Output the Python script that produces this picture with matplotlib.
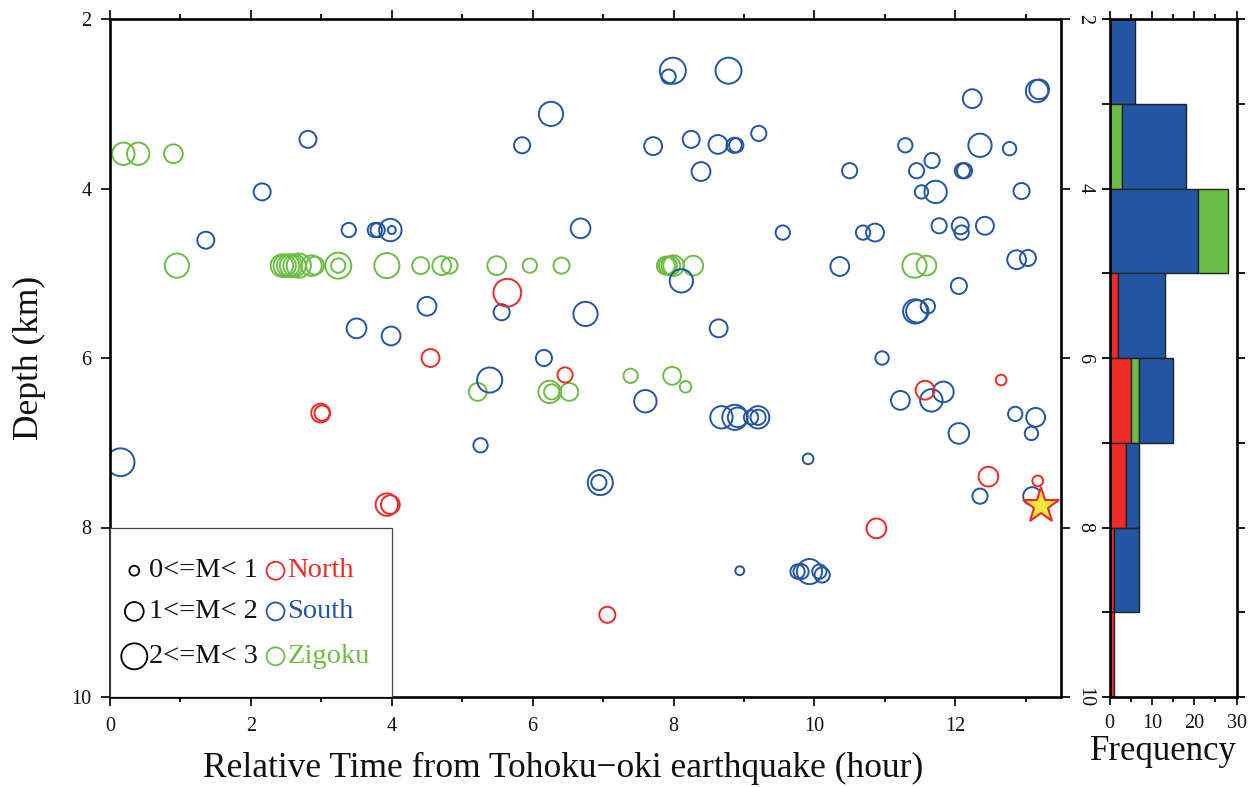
import matplotlib
matplotlib.use("Agg")
import matplotlib.pyplot as plt
from matplotlib.patches import Rectangle
from matplotlib.ticker import MultipleLocator, FixedLocator

plt.rcParams['font.family'] = ['Liberation Serif', 'DejaVu Serif']

# ---------------- event catalogue: (time [h], depth [km], magnitude) ----------------
north_time = [5.64, 4.55, 6.46, 2.99, 3.01, 3.93, 3.98, 7.06, 10.88, 11.57, 12.65, 12.47, 13.17]
north_depth = [5.23, 6.00, 6.20, 6.65, 6.65, 7.73, 7.73, 9.03, 8.01, 6.38, 6.26, 7.40, 7.45]
north_mag = [2.7, 1.6, 1.3, 1.7, 1.3, 2.1, 1.7, 1.4, 1.8, 1.7, 0.8, 1.8, 0.8]

zigoku_time = [0.19, 0.40, 0.90, 0.95, 2.44, 2.48, 2.53, 2.57, 2.62, 2.68, 2.86, 2.91,
               3.24, 3.24, 3.93, 4.41, 4.71, 4.82, 5.49, 5.96, 6.41, 7.89, 7.92, 7.96,
               8.00, 8.28, 11.42, 11.59, 5.22, 6.24, 6.27, 6.52, 7.39, 7.98, 8.17]
zigoku_depth = [3.59, 3.59, 3.59, 4.91, 4.91, 4.91, 4.91, 4.91, 4.91, 4.91, 4.91, 4.91,
                4.91, 4.91, 4.91, 4.91, 4.91, 4.91, 4.91, 4.91, 4.91, 4.91, 4.91, 4.91,
                4.91, 4.91, 4.91, 4.91, 6.40, 6.40, 6.40, 6.40, 6.21, 6.21, 6.34]
zigoku_mag = [2.1, 2.1, 1.7, 2.3, 2.1, 2.1, 2.1, 2.1, 2.1, 2.3, 1.9, 1.6,
              2.5, 1.2, 2.4, 1.5, 1.7, 1.4, 1.7, 1.2, 1.4, 1.6, 1.6, 1.7,
              1.9, 1.8, 2.3, 1.8, 1.6, 2.1, 1.3, 1.6, 1.2, 1.6, 0.9]

south_time = [2.81, 2.16, 1.36, 0.15, 3.39, 3.76, 3.80, 3.98, 4.00, 3.50, 3.99, 4.50,
              7.99, 7.93, 8.78, 6.26, 5.85, 7.71, 8.25, 8.63, 8.86, 8.89, 9.21, 8.39,
              6.68, 9.55, 8.11, 5.56, 6.75, 8.64, 6.16, 5.39, 7.60, 8.68, 8.87, 8.91,
              9.10, 9.20, 9.20, 5.26, 9.91, 6.96, 6.94, 8.94, 9.76, 9.81, 9.93, 10.07,
              10.11, 13.16, 13.19, 12.24, 12.35, 11.29, 12.77, 11.67, 10.50, 11.45, 12.10,
              12.13, 11.52, 11.72, 12.94, 11.77, 12.07, 12.09, 12.42, 10.69, 10.86, 10.36,
              12.87, 13.03, 12.05, 11.43, 11.46, 11.61, 10.96, 11.83, 11.22, 11.66, 12.85,
              13.14, 13.08, 12.05, 12.35, 13.09]
south_depth = [3.42, 4.04, 4.61, 7.23, 4.49, 4.49, 4.49, 4.49, 4.49, 5.65, 5.74, 5.39,
               2.61, 2.68, 2.61, 3.12, 3.49, 3.50, 3.42, 3.48, 3.49, 3.49, 3.35, 3.80,
               4.47, 4.52, 5.09, 5.46, 5.48, 5.65, 6.00, 6.26, 6.51, 6.70, 6.70, 6.70,
               6.70, 6.70, 6.70, 7.03, 7.19, 7.47, 7.47, 8.51, 8.52, 8.52, 8.52, 8.52,
               8.56, 2.85, 2.83, 2.94, 3.49, 3.49, 3.53, 3.67, 3.79, 3.79, 3.79,
               3.79, 4.04, 4.04, 4.03, 4.44, 4.44, 4.52, 4.44, 4.52, 4.52, 4.92,
               4.84, 4.82, 5.15, 5.45, 5.45, 5.39, 6.00, 6.40, 6.50, 6.50, 6.66,
               6.70, 6.89, 6.89, 7.63, 7.63]
south_mag = [1.5, 1.5, 1.5, 2.7, 1.2, 1.2, 1.2, 2.1, 0.5, 1.8, 1.7, 1.7,
             2.5, 1.2, 2.5, 2.3, 1.4, 1.6, 1.5, 1.7, 1.3, 1.2, 1.3, 1.7,
             1.8, 1.2, 2.2, 1.4, 2.3, 1.6, 1.4, 2.4, 2.1, 2.1, 2.4, 1.8,
             1.2, 2.1, 1.3, 1.2, 0.8, 2.4, 1.3, 0.6, 1.2, 1.3, 2.4, 1.2,
             1.3, 2.1, 1.8, 1.7, 2.2, 1.2, 1.1, 1.3, 1.3, 1.3, 1.3,
             1.3, 1.1, 2.1, 1.4, 1.3, 1.5, 1.2, 1.6, 1.2, 1.6, 1.7,
             1.7, 1.4, 1.4, 2.3, 2.1, 1.2, 1.1, 1.9, 1.7, 2.1, 1.2,
             1.7, 1.1, 1.9, 1.3, 1.6]

# Reference event (star)
star_time = [13.22]
star_depth = [7.75]

# ---------------- depth histogram (1 km bins) ----------------
depth_edges = [2, 3, 4, 5, 6, 7, 8, 9, 10]
north_hist = [0, 0, 0, 2, 5, 4, 1, 1]
zigoku_hist = [0, 3, 7, 0, 2, 0, 0, 0]
south_hist = [6, 15, 21, 11, 8, 3, 6, 0]

# Legend entries
mag_classes = ["0<=M< 1", "1<=M< 2", "2<=M< 3"]
mag_class_rep = [0.7, 1.7, 2.5]
region_names = ["North", "South", "Zigoku"]

RED = "#EE2A26"
BLUE = "#2255A4"
GREEN = "#6CBD45"
region_colors = [RED, BLUE, GREEN]

W, H = 1256, 787
fig = plt.figure(figsize=(W / 100, H / 100), dpi=100)


def diam_pts(m):
    # circle diameter (points) grows with magnitude
    return (3.5 + 9.0 * m) * 0.72


def sizes(mags):
    return [diam_pts(m) ** 2 for m in mags]


ax = fig.add_axes([110 / W, 1 - 697 / H, (1061 - 110) / W, (697 - 19) / H])
axh = fig.add_axes([1109.5 / W, 1 - 697 / H, (1236.5 - 1109.5) / W, (697 - 19) / H])

lw_c = 1.4
ax.scatter(zigoku_time, zigoku_depth, s=sizes(zigoku_mag), facecolors='none',
           edgecolors=GREEN, linewidths=lw_c, zorder=2)
ax.scatter(south_time, south_depth, s=sizes(south_mag), facecolors='none',
           edgecolors=BLUE, linewidths=lw_c, zorder=2)
ax.scatter(north_time, north_depth, s=sizes(north_mag), facecolors='none',
           edgecolors=RED, linewidths=lw_c, zorder=2)
ax.plot(star_time, star_depth, marker='*', ms=27, mfc='#F1E83C', mec=RED, mew=1.5,
        ls='none', zorder=4)

ax.set_xlim(0, 13.5)
ax.set_ylim(10, 2)

# ---- legend box in the lower-left corner ----
ax.add_patch(Rectangle((0, 8), 4, 2, facecolor='white', edgecolor='#444444',
                       linewidth=0.9, zorder=3))
row_y = [8.51, 8.99, 9.52]
for yy, lab, m in zip(row_y, mag_classes, mag_class_rep):
    ax.scatter([0.345], [yy], s=[diam_pts(m) ** 2], facecolors='none',
               edgecolors='black', linewidths=1.3, zorder=4)
    ax.text(0.55, yy, lab, fontsize=20.5, va='center', ha='left', color='#111111', zorder=4)
for yy, name, col in zip(row_y, region_names, region_colors):
    ax.scatter([2.35], [yy], s=[diam_pts(1.6) ** 2], facecolors='none',
               edgecolors=col, linewidths=1.3, zorder=4)
    ax.text(2.52, yy, name, fontsize=20.5, va='center', ha='left', color=col, zorder=4)

# ---- main axes styling ----
for sp in ax.spines.values():
    sp.set_linewidth(1.9)
ax.xaxis.set_major_locator(FixedLocator([0, 2, 4, 6, 8, 10, 12]))
ax.xaxis.set_minor_locator(FixedLocator([1, 3, 5, 7, 9, 11, 13]))
ax.yaxis.set_major_locator(FixedLocator([2, 4, 6, 8, 10]))
ax.tick_params(axis='x', which='major', direction='out', length=6.5, width=1.3,
               top=True, labelsize=14.5, pad=8, colors='#111111')
ax.tick_params(axis='x', which='minor', direction='out', length=3.5, width=1.3, top=True)
ax.tick_params(axis='y', which='major', direction='out', length=6.5, width=1.3,
               left=True, right=True, labelleft=True, labelright=True,
               labelsize=14.5, pad=8, colors='#111111')
ax.tick_params(axis='y', which='major', labelright=True, pad=4)
ax.tick_params(axis='y', which='major', labelleft=True)
for t in ax.yaxis.get_major_ticks():
    t.label2.set_rotation(-90)
    t.label2.set_va('center')
    t.label2.set_ha('left')
    t.label1.set_x(-0.004)

fig.text(563 / W, 1 - 777 / H,
         "Relative Time from Tohoku\u2212oki earthquake (hour)",
         fontsize=25.5, ha='center', va='baseline', color='#111111')
fig.text(29 / W, 1 - 358 / H, "Depth (km)", fontsize=25.5, rotation=90,
         ha='center', va='center', color='#111111')
fig.text(1163 / W, 1 - 760 / H, "Frequency", fontsize=25, ha='center',
         va='baseline', color='#111111')

# ---- stacked depth histogram ----
stack_order = [['N', 'Z', 'S']] * 8
stack_order[2] = ['N', 'S', 'Z']
hist_by_region = {'N': (north_hist, RED), 'Z': (zigoku_hist, GREEN), 'S': (south_hist, BLUE)}
for i in range(len(depth_edges) - 1):
    left = 0
    for key in stack_order[i]:
        counts, col = hist_by_region[key]
        c = counts[i]
        if c > 0:
            axh.barh(depth_edges[i], c, height=1, left=left, align='edge',
                     color=col, edgecolor='#222222', linewidth=1.0, zorder=2)
            left += c

axh.set_xlim(0, 30)
axh.set_ylim(10, 2)
for sp in axh.spines.values():
    sp.set_linewidth(1.9)
axh.xaxis.set_major_locator(FixedLocator([0, 10, 20, 30]))
axh.xaxis.set_minor_locator(FixedLocator([5, 15, 25]))
axh.yaxis.set_major_locator(MultipleLocator(1))
axh.tick_params(axis='x', which='major', direction='out', length=6, width=1.3,
                top=True, labelsize=14.5, pad=6, colors='#111111')
axh.tick_params(axis='x', which='minor', direction='out', length=3.5, width=1.3, top=True)
axh.tick_params(axis='y', which='major', direction='out', length=6, width=1.3,
                left=True, right=True, labelleft=False, labelright=False)

fig.savefig("out.png", dpi=100, facecolor='white')
